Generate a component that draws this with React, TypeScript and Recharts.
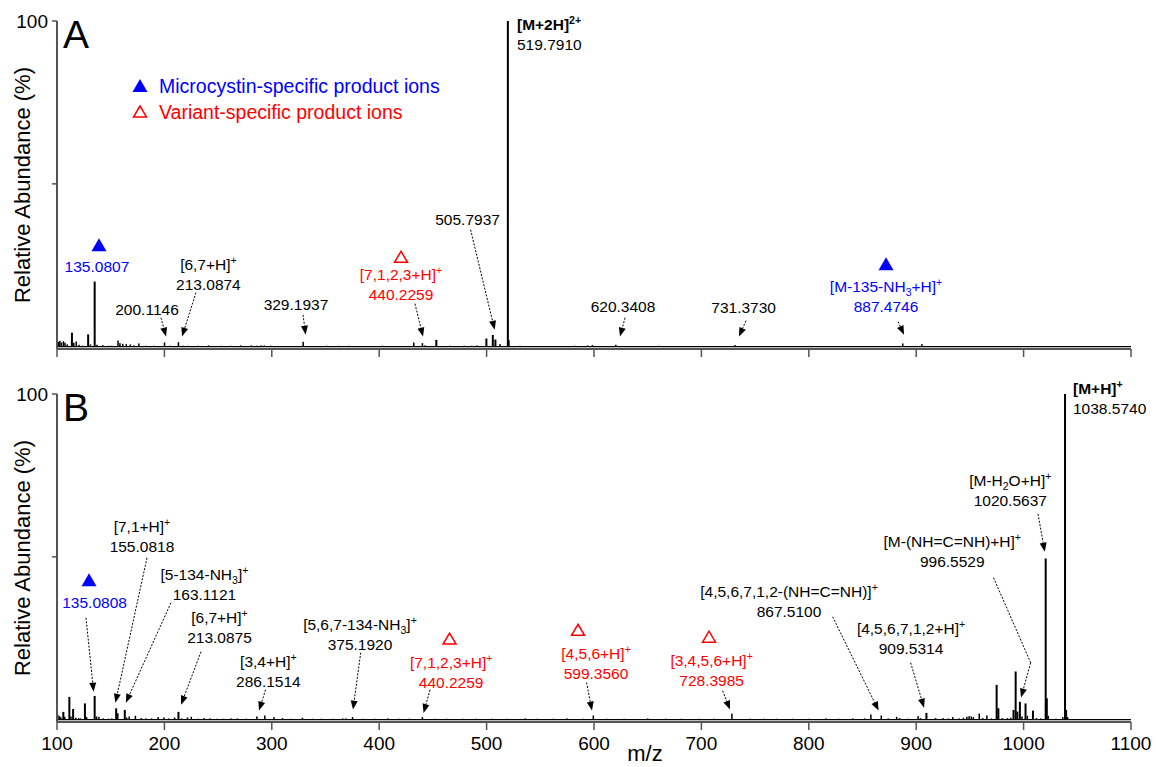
import React from 'react';
import {
  ComposedChart,
  Bar,
  XAxis,
  YAxis,
  ReferenceLine,
  ReferenceDot,
  Legend,
  Label,
} from 'recharts';

// ---- data ----
const mzTicks = [100, 200, 300, 400, 500, 600, 700, 800, 900, 1000, 1100];
const abundanceTicks = [50, 100];

// panel A spectrum: [m/z, relative abundance %]
const peaksA: [number, number][] = [
  [101.2, 1.5], [102.6, 1.8], [104.1, 1.3], [106.0, 1.7], [107.5, 1.2], [109.5, 0.7],
  [113.9, 4.3], [115.6, 1.2], [117.9, 1.6], [120.5, 0.6], [124, 0.3], [129.0, 3.8],
  [131.2, 0.7], [135.08, 20.0], [137.2, 0.6], [142.5, 0.5], [148, 0.3], [151, 0.3],
  [156.8, 1.9], [158.6, 1.1], [161.2, 0.9], [164.5, 0.8], [168.3, 0.7], [171.5, 0.4],
  [176.2, 1.0], [183, 0.3], [190.5, 0.3], [196, 0.2], [200.11, 1.3], [205, 0.3],
  [213.09, 1.4], [217, 0.3], [222, 0.3], [231, 0.3], [241, 0.4], [253, 0.3], [262, 0.3],
  [271, 0.4], [281, 0.4], [286, 0.3], [290, 0.4], [293, 0.4], [299, 0.3], [312, 0.2],
  [329.19, 1.5], [342, 0.2], [351, 0.3], [362, 0.3], [372, 0.3], [386, 0.2], [403, 0.3],
  [432.2, 1.3], [440.23, 1.1], [442.5, 0.4], [453.2, 2.1], [466, 0.3], [479, 0.3],
  [486, 0.3], [491, 0.4], [499.8, 2.5], [505.79, 3.6], [508.2, 2.2], [512.5, 0.8],
  [519.79, 100], [520.8, 2.0], [531, 0.3], [548, 0.2], [582, 0.3], [594, 0.4],
  [598.5, 0.5], [620.34, 0.6], [660.5, 0.3], [731.37, 0.5], [887.47, 1.0], [905.3, 0.8],
];

// panel B spectrum
const peaksB: [number, number][] = [
  [100.8, 1.5], [102.2, 1.1], [103.5, 0.8], [105.9, 2.4], [107.2, 0.9], [111.5, 7.0],
  [113.0, 1.0], [115.0, 3.3], [117.5, 0.6], [120.2, 0.5], [122, 0.4], [126.0, 5.0],
  [127.6, 0.8], [135.08, 7.3], [136.8, 1.0], [139.0, 0.9], [143, 0.4], [148, 0.3],
  [151, 0.4], [155.08, 3.5], [156.6, 2.0], [163.11, 3.0], [164.8, 0.7], [167.2, 1.0],
  [173.0, 1.2], [178.5, 0.5], [183, 0.4], [188, 0.4], [194.2, 0.8], [199.5, 0.7],
  [204, 0.4], [209.5, 0.7], [213.09, 2.4], [216, 0.4], [221.5, 0.7], [225.0, 0.9],
  [231, 0.3], [237, 0.5], [242.5, 0.4], [249, 0.3], [255, 0.3], [262, 0.4], [268, 0.4],
  [276, 0.3], [286.15, 1.0], [293.5, 1.3], [302, 0.8], [310, 0.5], [318, 0.3],
  [328.5, 0.6], [338, 0.3], [346, 0.3], [357, 0.3], [366, 0.4], [369, 0.4],
  [375.19, 0.8], [385, 0.3], [396, 0.3], [408, 0.4], [418, 0.3], [428, 0.3],
  [440.23, 0.8], [452, 0.3], [463, 0.3], [478, 0.3], [490, 0.3], [505, 0.3], [519, 0.3],
  [536, 0.4], [547, 0.3], [562, 0.3], [575, 0.4], [590, 0.3], [599.36, 1.3], [612, 0.3],
  [628, 0.3], [650, 0.4], [667, 0.3], [681.5, 0.3], [698, 0.3], [712, 0.3], [728.4, 1.9],
  [745, 0.3], [758, 0.3], [770, 0.3], [785, 0.3], [800, 0.3], [816, 0.4], [828, 0.3],
  [841, 0.4], [852, 0.4], [857.8, 1.6], [867.51, 1.3], [874, 0.4], [881.8, 0.9],
  [884.5, 0.5], [892, 0.3], [901.8, 1.1], [904, 0.5], [909.53, 2.1], [918, 0.5],
  [925, 0.5], [930, 0.4], [934, 0.8], [940, 0.4], [944, 0.6], [947.2, 0.9], [949.3, 1.1],
  [951.3, 1.0], [953.2, 0.8], [958.7, 1.9], [962, 0.5], [965.8, 1.3], [970, 0.4],
  [974.9, 10.7], [976.5, 3.5], [980, 0.5], [985, 0.5], [988, 0.6], [990.6, 3.0],
  [992.6, 14.8], [994.2, 2.5], [996.55, 5.5], [998.5, 1.0], [1001.8, 5.0], [1003.5, 1.2],
  [1008.7, 2.8], [1012, 0.5], [1016, 0.4], [1020.56, 49.5], [1021.6, 6.6], [1023, 1.2],
  [1030, 0.3], [1036.5, 0.8], [1038.57, 100], [1039.6, 3.0], [1041, 0.8],
];

// ---- annotations (placed in m/z, % units) ----
const BLUE = '#0000FF';
const RED = '#FF0000';
const BLACK = '#000000';
const AXIS = '#555555';
const FONT = '"Liberation Sans", Arial, Helvetica, sans-serif';

type Ion = { x: number; y: number; lines: string[]; color?: string; start?: boolean; boldFirst?: boolean };
type Marker = { x: number; y: number; filled: boolean };
type Arrow = { from: [number, number]; to: [number, number]; head?: boolean };

const ionsA: Ion[] = [
  { x: 137.2, y: 24.6, color: BLUE, lines: ['135.0807'] },
  { x: 183.8, y: 11.4, lines: ['200.1146'] },
  { x: 241.0, y: 25.2, lines: ['[6,7+H]^{+}', '213.0874'] },
  { x: 322.5, y: 12.9, lines: ['329.1937'] },
  { x: 420.3, y: 22.1, color: RED, lines: ['[7,1,2,3+H]^{+}', '440.2259'] },
  { x: 482.3, y: 39.0, lines: ['505.7937'] },
  { x: 528.3, y: 98.9, start: true, boldFirst: true, lines: ['[M+2H]^{2+}', '519.7910'] },
  { x: 627.0, y: 12.3, lines: ['620.3408'] },
  { x: 739.3, y: 12.0, lines: ['731.3730'] },
  { x: 871.9, y: 18.4, color: BLUE, lines: ['[M-135-NH_{3}+H]^{+}', '887.4746'] },
];

const markersA: Marker[] = [
  { x: 139.1, y: 31.3, filled: true },
  { x: 420.3, y: 27.6, filled: false },
  { x: 871.9, y: 25.5, filled: true },
];

const arrowsA: Arrow[] = [
  { from: [196.8, 8.9], to: [201.5, 3.1] },
  { from: [229.4, 16.6], to: [216.4, 3.1] },
  { from: [329.1, 9.8], to: [331.5, 3.7] },
  { from: [433.3, 13.2], to: [440.8, 3.1] },
  { from: [485.1, 35.9], to: [507.5, 5.2] },
  { from: [628.9, 8.9], to: [624.2, 3.1] },
  { from: [741.5, 8.0], to: [735.0, 3.1] },
  { from: [883.1, 7.7], to: [888.7, 3.7] },
];

const ionsB: Ion[] = [
  { x: 135.0, y: 35.9, color: BLUE, lines: ['135.0808'] },
  { x: 179.1, y: 59.3, lines: ['[7,1+H]^{+}', '155.0818'] },
  { x: 237.3, y: 44.5, lines: ['[5-134-NH_{3}]^{+}', '163.1121'] },
  { x: 251.3, y: 31.3, lines: ['[6,7+H]^{+}', '213.0875'] },
  { x: 296.8, y: 17.8, lines: ['[3,4+H]^{+}', '286.1514'] },
  { x: 382.1, y: 29.2, lines: ['[5,6,7-134-NH_{3}]^{+}', '375.1920'] },
  { x: 467.0, y: 17.5, color: RED, lines: ['[7,1,2,3+H]^{+}', '440.2259'] },
  { x: 601.9, y: 20.3, color: RED, lines: ['[4,5,6+H]^{+}', '599.3560'] },
  { x: 709.5, y: 18.1, color: RED, lines: ['[3,4,5,6+H]^{+}', '728.3985'] },
  { x: 781.6, y: 39.3, lines: ['[4,5,6,7,1,2-(NH=C=NH)]^{+}', '867.5100'] },
  { x: 895.2, y: 27.9, lines: ['[4,5,6,7,1,2+H]^{+}', '909.5314'] },
  { x: 933.6, y: 54.7, lines: ['[M-(NH=C=NH)+H]^{+}', '996.5529'] },
  { x: 987.6, y: 73.4, lines: ['[M-H_{2}O+H]^{+}', '1020.5637'] },
  { x: 1046.0, y: 101.6, start: true, boldFirst: true, lines: ['[M+H]^{+}', '1038.5740'] },
];

const markersB: Marker[] = [
  { x: 129.8, y: 43.0, filled: true },
  { x: 465.5, y: 24.9, filled: false },
  { x: 585.1, y: 27.6, filled: false },
  { x: 707.1, y: 25.5, filled: false },
];

const arrowsB: Arrow[] = [
  { from: [127.0, 31.3], to: [134.1, 8.6] },
  { from: [183.8, 49.7], to: [154.4, 5.2] },
  { from: [206.1, 35.9], to: [164.1, 5.2] },
  { from: [234.1, 20.9], to: [215.5, 4.6] },
  { from: [294.2, 9.2], to: [288.1, 2.8] },
  { from: [382.8, 20.6], to: [375.6, 3.1] },
  { from: [447.3, 9.2], to: [441.3, 2.1] },
  { from: [593.1, 11.4], to: [598.1, 2.8] },
  { from: [719.8, 8.9], to: [726.6, 3.1] },
  { from: [822.2, 31.6], to: [865.0, 2.8] },
  { from: [894.8, 17.5], to: [907.3, 3.7] },
  { from: [972.0, 43.6], to: [1006.6, 17.5], head: false },
  { from: [1006.6, 17.5], to: [997.6, 6.8] },
  { from: [1013.4, 63.2], to: [1019.7, 51.6] },
];

// ---- drawing helpers ----
const ANN_FS = 15.5;
const LINE_GAP = 19.5;
const LEGEND_FS = 19.5;

// "^{..}" superscript, "_{..}" subscript
function richText(text: string, fs: number) {
  const segs: React.ReactNode[] = [];
  const re = /([\^_])\{([^}]*)\}/g;
  let last = 0;
  let cur = 0;
  let m: RegExpExecArray | null;
  const push = (t: string, target: number, size: number) => {
    segs.push(
      <tspan key={segs.length} dy={target - cur} fontSize={size}>
        {t}
      </tspan>
    );
    cur = target;
  };
  while ((m = re.exec(text))) {
    if (m.index > last) push(text.slice(last, m.index), 0, fs);
    push(m[2], m[1] === '^' ? -0.4 * fs : 0.25 * fs, fs * 0.68);
    last = re.lastIndex;
  }
  if (last < text.length) push(text.slice(last), 0, fs);
  return segs;
}

const ionShape = (ion: Ion) => (p: any) => (
  <g>
    {ion.lines.map((line, i) => (
      <text
        key={i}
        x={p.cx}
        y={p.cy + i * LINE_GAP + 0.36 * ANN_FS}
        fontSize={ANN_FS}
        fontFamily={FONT}
        fontWeight={ion.boldFirst && i === 0 ? 'bold' : 'normal'}
        fill={ion.color || BLACK}
        textAnchor={ion.start ? 'start' : 'middle'}
      >
        {richText(line, ANN_FS)}
      </text>
    ))}
  </g>
);

const triangle = (cx: number, cy: number, filled: boolean) =>
  filled ? (
    <polygon points={`${cx},${cy - 6.5} ${cx - 7.5},${cy + 6.5} ${cx + 7.5},${cy + 6.5}`} fill={BLUE} />
  ) : (
    <polygon
      points={`${cx},${cy - 5.5} ${cx - 6.5},${cy + 5.5} ${cx + 6.5},${cy + 5.5}`}
      fill="none"
      stroke={RED}
      strokeWidth={1.5}
    />
  );

const markerShape = (mk: Marker) => (p: any) => triangle(p.cx, p.cy, mk.filled);

const arrowShape = (head: boolean) => (p: any) => {
  const { x1, y1, x2, y2 } = p;
  const dx = x2 - x1;
  const dy = y2 - y1;
  const len = Math.hypot(dx, dy) || 1;
  const ux = dx / len;
  const uy = dy / len;
  const L = head ? 9 : 0;
  const W = 3.5;
  const bx = x2 - ux * L;
  const by = y2 - uy * L;
  return (
    <g>
      <line x1={x1} y1={y1} x2={bx} y2={by} stroke={BLACK} strokeWidth={1} strokeDasharray="2 1.5" />
      {head && (
        <polygon
          points={`${x2},${y2} ${bx - uy * W},${by + ux * W} ${bx + uy * W},${by - ux * W}`}
          fill={BLACK}
        />
      )}
    </g>
  );
};

// vertical stick for a centroided peak
const stick = (p: any) => {
  const w = p.payload && p.payload.pct > 2 ? 2 : 1.5;
  if (!p.height) return null;
  return <rect x={p.x + p.width / 2 - w / 2} y={p.y} width={w} height={p.height} fill={BLACK} />;
};

const yLabel = (props: any) => {
  const vb = props.viewBox;
  const cx = vb.x + 22;
  const cy = vb.y + vb.height / 2;
  return (
    <text
      x={cx}
      y={cy}
      transform={`rotate(-90, ${cx}, ${cy})`}
      textAnchor="middle"
      dominantBaseline="central"
      fontSize={22}
      fontFamily={FONT}
      fill={BLACK}
    >
      Relative Abundance (%)
    </text>
  );
};

const xLabel = (props: any) => {
  const vb = props.viewBox;
  return (
    <text x={vb.x + vb.width * 0.5475} y={vb.y + vb.height - 6} textAnchor="middle" fontSize={22} fontFamily={FONT} fill={BLACK}>
      m/z
    </text>
  );
};

const legendContent = () => (
  <svg width={360} height={54}>
    {triangle(10, 13.5, true)}
    <text x={29} y={13.5 + 0.36 * LEGEND_FS} fontSize={LEGEND_FS} fontFamily={FONT} fill={BLUE}>
      Microcystin-specific product ions
    </text>
    {triangle(10, 39.5, false)}
    <text x={29} y={40 + 0.36 * LEGEND_FS} fontSize={LEGEND_FS} fontFamily={FONT} fill={RED}>
      Variant-specific product ions
    </text>
  </svg>
);

interface PanelProps {
  peaks: [number, number][];
  ions: Ion[];
  markers: Marker[];
  arrows: Arrow[];
  height: number;
  axisHeight: number;
  bottomLabels: boolean;
  withLegend?: boolean;
}

function Panel({ peaks, ions, markers, arrows, height, axisHeight, bottomLabels, withLegend }: PanelProps) {
  const data = peaks.map(([mz, pct]) => ({ mz, pct }));
  return (
    <ComposedChart
      width={1156}
      height={height}
      data={data}
      margin={{ top: 21, right: 25, bottom: 0, left: 0 }}
      style={{ fontFamily: FONT }}
    >
      <XAxis
        type="number"
        dataKey="mz"
        domain={[100, 1100]}
        ticks={mzTicks}
        interval={0}
        allowDataOverflow
        height={axisHeight}
        tickSize={8}
        tickMargin={7}
        axisLine={{ stroke: AXIS, strokeWidth: 2 }}
        tickLine={{ stroke: AXIS, strokeWidth: 1.5 }}
        tick={{ fill: BLACK, fontSize: 19, fontFamily: FONT }}
        tickFormatter={(v: number) => (bottomLabels ? String(v) : '')}
      >
        {bottomLabels && <Label content={xLabel} />}
      </XAxis>
      <YAxis
        type="number"
        domain={[-0.7, 100]}
        ticks={abundanceTicks}
        interval={0}
        allowDataOverflow
        width={57}
        tickSize={5}
        tickMargin={4}
        axisLine={{ stroke: AXIS, strokeWidth: 2 }}
        tickLine={{ stroke: AXIS, strokeWidth: 1.5 }}
        tick={{ fill: BLACK, fontSize: 19, fontFamily: FONT }}
        tickFormatter={(v: number) => (v === 100 ? '100' : '')}
      >
        <Label content={yLabel} />
      </YAxis>
      <ReferenceLine y={0} stroke={BLACK} strokeWidth={1.2} />
      <Bar dataKey="pct" isAnimationActive={false} shape={stick} />
      {arrows.map((a, i) => (
        <ReferenceLine
          key={`a${i}`}
          segment={[
            { x: a.from[0], y: a.from[1] },
            { x: a.to[0], y: a.to[1] },
          ]}
          ifOverflow="visible"
          shape={arrowShape(a.head !== false)}
        />
      ))}
      {markers.map((mk, i) => (
        <ReferenceDot key={`m${i}`} x={mk.x} y={mk.y} ifOverflow="visible" shape={markerShape(mk)} />
      ))}
      {ions.map((ion, i) => (
        <ReferenceDot key={`i${i}`} x={ion.x} y={ion.y} ifOverflow="visible" shape={ionShape(ion)} />
      ))}
      {withLegend && (
        <Legend
          layout="vertical"
          align="center"
          verticalAlign="middle"
          wrapperStyle={{ left: 130, top: 72, width: 360, height: 54 }}
          content={legendContent}
        />
      )}
    </ComposedChart>
  );
}

export default function App() {
  return (
    <div style={{ position: 'absolute', left: 0, top: 0, width: 1156, height: 767, background: '#fff' }}>
      <div style={{ position: 'absolute', left: 0, top: 0 }}>
        <Panel peaks={peaksA} ions={ionsA} markers={markersA} arrows={arrowsA} height={373} axisHeight={24} bottomLabels={false} withLegend />
      </div>
      <div style={{ position: 'absolute', left: 0, top: 373 }}>
        <Panel peaks={peaksB} ions={ionsB} markers={markersB} arrows={arrowsB} height={394} axisHeight={45} bottomLabels />
      </div>
      <svg width={1156} height={767} style={{ position: 'absolute', left: 0, top: 0, pointerEvents: 'none' }}>
        <text x={63} y={48} fontSize={39} fontFamily={FONT} fill={BLACK}>A</text>
        <text x={63} y={421} fontSize={39} fontFamily={FONT} fill={BLACK}>B</text>
      </svg>
    </div>
  );
}
